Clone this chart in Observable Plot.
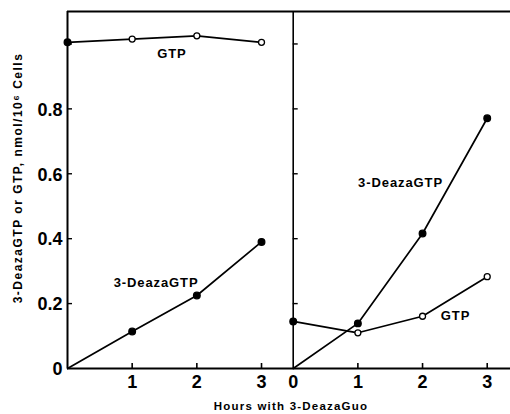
<!DOCTYPE html>
<html>
<head>
<meta charset="utf-8">
<script src="https://cdn.jsdelivr.net/npm/d3@7"></script>
<script src="https://cdn.jsdelivr.net/npm/@observablehq/plot@0.6"></script>
<style>
  html, body { margin: 0; padding: 0; background: #fff; }
  svg { display: block; }
  .series-label text { letter-spacing: 0.9px; }
  .axis-title text { letter-spacing: 1.2px; }
  .y-title text { letter-spacing: 1.5px; }
</style>
</head>
<body>
<div id="chart"></div>
<script>
// ---- data ----
const hours = [0, 1, 2, 3];
const leftGTP    = [1.005, 1.015, 1.025, 1.005];
const leftDeaza  = [0, 0.114, 0.225, 0.39];
const rightGTP   = [0.145, 0.11, 0.161, 0.283];
const rightDeaza = [0, 0.139, 0.416, 0.771];

const yTickValues = [0.2, 0.4, 0.6, 0.8, 1.0];
const yLabelValues = [0, 0.2, 0.4, 0.6, 0.8];
const yLabelText = ["0", "0.2", "0.4", "0.6", "0.8"];
const leftXLabels = ["1", "2", "3"];
const rightXLabels = ["0", "1", "2", "3"];

const seriesLabels = [
  {panel: 0, h: 1.615, v: 0.969, text: "GTP"},
  {panel: 0, h: 1.37,  v: 0.265, text: "3-DeazaGTP"},
  {panel: 1, h: 1.66,  v: 0.572, text: "3-DeazaGTP"},
  {panel: 1, h: 2.51,  v: 0.163, text: "GTP"}
];

const yTitle = "3-DeazaGTP or GTP, nmol/10\u2076 Cells";
const xTitle = "Hours with 3-DeazaGuo";

// ---- layout of the two panels on one shared x scale ----
const PANEL_OFFSET = 3.49;
const X_MAX = 6.85;
const Y_MAX = 1.1;

const px = (panel, h) => panel * PANEL_OFFSET + h;

const rows = [];
[[0, "GTP", leftGTP], [0, "Deaza", leftDeaza], [1, "GTP", rightGTP], [1, "Deaza", rightDeaza]]
  .forEach(([panel, series, vals]) => {
    vals.forEach((v, i) => rows.push({panel, series, key: panel + series, h: hours[i], v}));
  });

const xTickRows = [];
[1, 2, 3].forEach(h => xTickRows.push({x: px(0, h)}));
[1, 2, 3].forEach(h => xTickRows.push({x: px(1, h)}));

const xLabelRows = [];
leftXLabels.forEach((t, i) => xLabelRows.push({x: px(0, i + 1), t}));
rightXLabels.forEach((t, i) => xLabelRows.push({x: px(1, i), t}));

const FONT = "Liberation Sans, Arial, sans-serif";

const chart = Plot.plot({
  width: 510,
  height: 414,
  marginLeft: 67,
  marginRight: 0,
  marginTop: 11,
  marginBottom: 46,
  x: {domain: [0, X_MAX], axis: null},
  y: {domain: [0, Y_MAX], axis: null},
  style: {fontFamily: FONT, color: "black", background: "white"},
  marks: [
    // frame lines
    Plot.ruleY([0], {x1: 0, x2: X_MAX, strokeWidth: 2.2}),
    Plot.ruleY([Y_MAX], {x1: 0, x2: X_MAX, strokeWidth: 2.2}),
    Plot.ruleX([0], {y1: 0, y2: Y_MAX, strokeWidth: 2}),
    Plot.ruleX([PANEL_OFFSET], {y1: 0, y2: Y_MAX, strokeWidth: 1.6}),
    // y ticks (pointing right) on both vertical axes
    Plot.ruleY(yTickValues, {y: d => d, x1: 0, x2: 0, insetRight: -5, strokeWidth: 1.4}),
    Plot.ruleY(yTickValues, {y: d => d, x1: PANEL_OFFSET, x2: PANEL_OFFSET, insetRight: -5, strokeWidth: 1.4}),
    // x ticks (pointing up)
    Plot.ruleX(xTickRows, {x: "x", y1: 0, y2: 0, insetTop: -5, strokeWidth: 1.6}),
    // lines
    Plot.line(rows, {x: d => px(d.panel, d.h), y: "v", z: "key", stroke: "black", strokeWidth: 1.7}),
    // dots
    Plot.dot(rows.filter(d => d.v > 0), {
      x: d => px(d.panel, d.h), y: "v",
      r: d => (d.series === "Deaza" || d.h === 0) ? 3.2 : 2.6,
      fill: d => (d.series === "Deaza" || d.h === 0) ? "black" : "white",
      stroke: "black", strokeWidth: 1.3
    }),
    // y tick labels
    Plot.text(yLabelValues, {
      x: 0, y: d => d, text: (d, i) => yLabelText[i],
      textAnchor: "end", dx: -5, dy: 1, fontSize: 18, fontWeight: "bold"
    }),
    // x tick labels
    Plot.text(xLabelRows, {
      x: "x", y: 0, text: "t", dy: 14, fontSize: 18, fontWeight: "bold"
    }),
    // series labels
    Plot.text(seriesLabels, {
      x: d => px(d.panel, d.h), y: "v", text: "text",
      fontSize: 13, fontWeight: "bold", className: "series-label"
    }),
    // axis titles
    Plot.text([yTitle], {
      frameAnchor: "left", textAnchor: "middle", dx: -49, dy: -12, rotate: -90, text: d => d,
      fontSize: 12, fontWeight: "bold", className: "y-title"
    }),
    Plot.text([xTitle], {
      frameAnchor: "bottom", textAnchor: "middle", dy: 41, dx: 2, text: d => d,
      fontSize: 11.5, fontWeight: "bold", className: "axis-title"
    })
  ]
});

document.getElementById("chart").appendChild(chart);
</script>
</body>
</html>
